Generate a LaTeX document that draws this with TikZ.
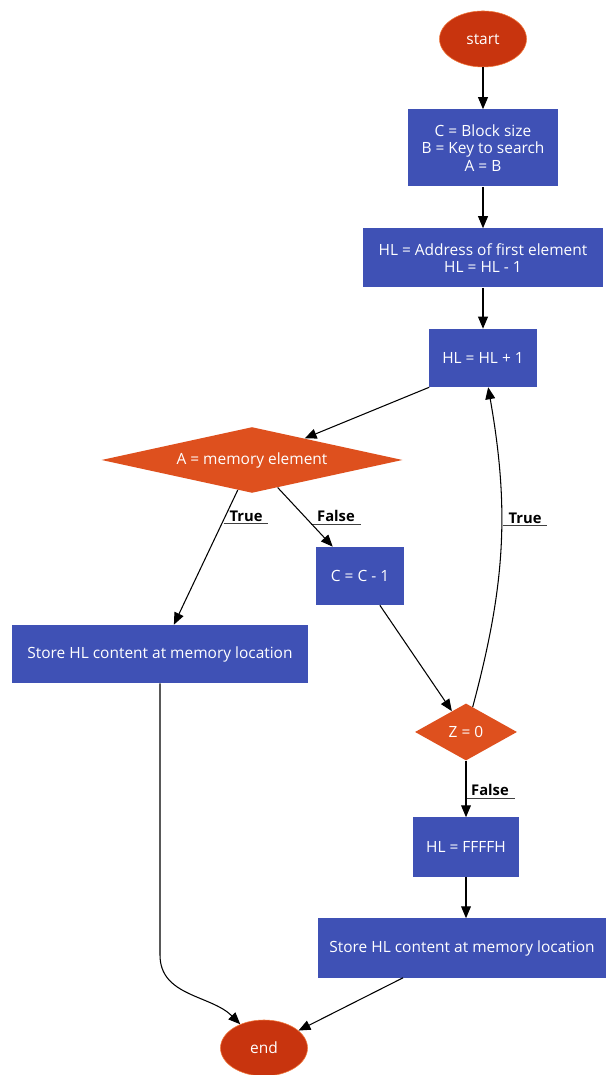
\documentclass[tikz,border=0pt]{standalone}
\usepackage{fontspec}
\setmainfont{Open Sans}
\usetikzlibrary{shapes.geometric,arrows.meta}
\definecolor{boxblue}{RGB}{63,81,181}
\definecolor{condred}{RGB}{222,80,30}
\definecolor{termred}{RGB}{200,52,14}
\definecolor{termrim}{RGB}{240,120,60}

\begin{document}
\begin{tikzpicture}[x=0.025cm,y=0.025cm,
  font=\fontsize{11}{12.6}\selectfont,
  box/.style={rectangle,fill=boxblue,text=white,align=center,inner sep=0pt,minimum height=1.45cm},
  cond/.style={diamond,fill=condred,text=white,inner sep=0pt,aspect=3},
  term/.style={ellipse,fill=termred,draw=termrim,text=white,inner sep=0pt,minimum width=2.175cm,minimum height=1.4cm},
  lbl/.style={font=\bfseries\fontsize{10.5}{12}\selectfont,inner xsep=4pt,inner ysep=1.5pt,
    append after command={(\tikzlastnode.south west) edge[draw=black!75,line width=0.6pt] (\tikzlastnode.south east)}},
  arr/.style={-{Triangle[length=8.5pt,width=7pt]},line width=0.75pt}]
\useasboundingbox (0,0) rectangle (608,1075);

\node[term] (start) at (483,1036) {start};
\node[box,minimum width=3.75cm,minimum height=1.925cm] (init) at (483,927) {C = Block size\\B = Key to search\\A = B};
\node[box,minimum width=6cm,minimum height=1.475cm] (addr) at (483,817) {HL = Address of first element\\HL = HL - 1};
\node[box,minimum width=2.675cm] (inc) at (483,717) {HL = HL + 1};
\node[cond,minimum width=7.525cm,minimum height=1.4cm] (cmp) at (252,615) {A = memory element};
\node[box,minimum width=2.175cm] (dec) at (360,499) {C = C - 1};
\node[box,minimum width=7.4cm] (storeL) at (160,421) {Store HL content at memory location};
\node[cond,minimum width=2.55cm,minimum height=1.425cm] (zero) at (466,343) {Z = 0};
\node[box,minimum width=2.625cm,minimum height=1.475cm] (ffff) at (466,228) {HL = FFFFH};
\node[box,minimum width=7.2cm,minimum height=1.475cm] (storeR) at (462,127) {Store HL content at memory location};
\node[term] (stop) at (264,27) {end};

% branch labels
\node[lbl] (tl) at (246,559) {True};
\node[lbl] (fl) at (336,559) {False};
\node[lbl] (tr) at (525,557) {True};
\node[lbl] (fr) at (490,285) {False};

\draw[arr] (start) -- (init);
\draw[arr] (init) -- (addr);
\draw[arr] (addr) -- (inc);
\draw[arr] (inc.south west) -- (cmp);
\draw[arr] (cmp) -- (storeL);
\draw[arr] (cmp) -- (dec);
\draw[arr] (dec) -- (zero);
\draw[arr] (zero) to[out=75,in=-80] (inc);
\draw[arr] (zero) -- (ffff);
\draw[arr] (ffff) -- (ffff |- storeR.north);
\draw[arr] (storeL.south) -- (storeL.south |- 0,120) to[out=-90,in=135] (stop);
\draw[arr] (storeR) -- (stop);
\end{tikzpicture}
\end{document}
